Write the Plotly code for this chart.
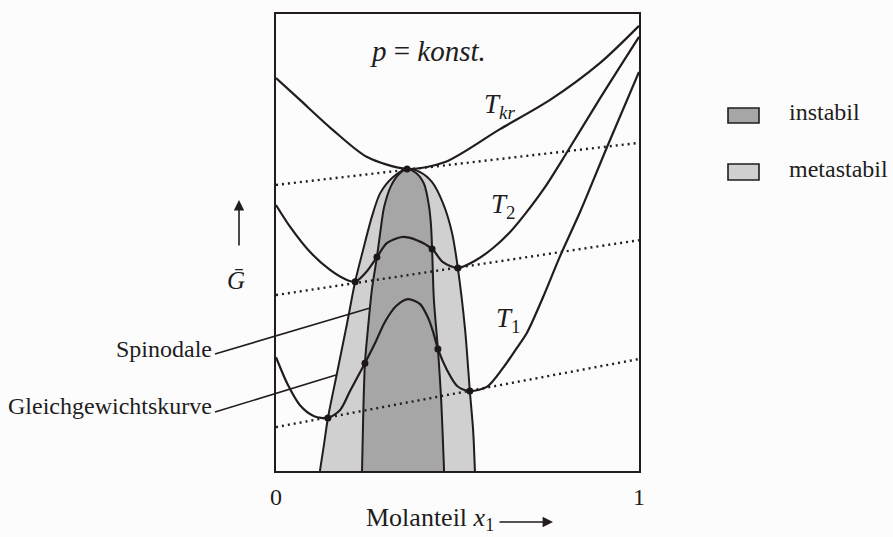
import plotly.graph_objects as go

# Molar Gibbs energy G(x1) at constant pressure for three temperatures
tkr_x = [0.000, 0.066, 0.157, 0.251, 0.361, 0.466, 0.617, 0.755, 0.893, 1.000]
tkr_g = [86.0, 81.2, 74.6, 68.7, 66.1, 67.6, 74.8, 81.2, 89.3, 97.4]

t2_x = [0.000, 0.039, 0.094, 0.149, 0.190, 0.218, 0.248, 0.278, 0.306, 0.347, 0.388,
        0.430, 0.460, 0.501, 0.548, 0.598, 0.645, 0.686, 0.741, 0.802, 0.893, 1.000]
t2_g = [58.2, 53.4, 47.9, 44.0, 42.0, 41.4, 43.5, 46.8, 49.9, 51.2, 50.5,
        48.6, 45.7, 44.4, 46.0, 48.8, 52.3, 56.2, 62.1, 69.8, 81.6, 95.0]

t1_x = [0.000, 0.033, 0.066, 0.105, 0.143, 0.176, 0.204, 0.245, 0.273, 0.300, 0.331, 0.364,
        0.397, 0.419, 0.433, 0.446, 0.471, 0.499, 0.534, 0.581, 0.625, 0.658, 0.691, 0.735,
        0.782, 0.840, 0.912, 1.000]
t1_g = [24.9, 18.8, 14.4, 12.0, 11.6, 13.3, 17.5, 23.6, 28.0, 32.6, 36.1, 37.6,
        36.5, 33.5, 30.4, 26.7, 22.1, 18.6, 17.5, 18.4, 22.5, 26.3, 30.2, 37.9,
        46.9, 57.1, 70.9, 87.3]

# Common tangents (double tangents) for each temperature
tangent_x = [0.0, 1.0]
tkr_tangent = [62.6, 71.8]
t2_tangent = [38.5, 50.5]
t1_tangent = [9.6, 24.5]

# Equilibrium curve (binodal) and spinodal, closed from bottom-left over the critical point
binodal_x = [0.121, 0.132, 0.143, 0.168, 0.196, 0.218, 0.240, 0.264, 0.287, 0.322, 0.361,
             0.397, 0.430, 0.460, 0.485, 0.501, 0.521, 0.534, 0.543, 0.548]
binodal_g = [0.0, 5.7, 11.6, 21.4, 32.4, 41.4, 48.4, 55.6, 60.8, 64.3, 66.1,
             65.4, 63.2, 58.6, 52.1, 44.4, 30.9, 17.5, 9.0, 0.0]

spinodal_x = [0.237, 0.240, 0.245, 0.253, 0.264, 0.278, 0.287, 0.298, 0.317, 0.339, 0.361,
              0.386, 0.408, 0.421, 0.427, 0.430, 0.435, 0.446, 0.455, 0.463]
spinodal_g = [0.0, 11.2, 23.6, 30.9, 39.6, 46.8, 52.1, 57.8, 62.4, 65.0, 66.1,
              65.2, 62.8, 58.2, 53.8, 48.6, 37.4, 26.7, 15.5, 0.0]

# Marked points: critical point, binodal and spinodal points on T2 and T1
point_x = [0.361, 0.218, 0.278, 0.430, 0.501, 0.143, 0.245, 0.446, 0.534]
point_g = [66.1, 41.4, 46.8, 48.6, 44.4, 11.6, 23.6, 26.7, 17.5]

x_ticks = [0, 1]
x_tick_text = ["0", "1"]

INK = "#221c1c"
SERIF = "Liberation Serif, Times New Roman, serif"
META = "#d0d0d0"
INST = "#a6a6a6"

fig = go.Figure()

fig.add_trace(go.Scatter(x=binodal_x, y=binodal_g, mode="lines", fill="toself",
                         fillcolor=META, line=dict(color=INK, width=2, shape="spline", smoothing=0.8),
                         hoverinfo="skip", showlegend=False))
fig.add_trace(go.Scatter(x=spinodal_x, y=spinodal_g, mode="lines", fill="toself",
                         fillcolor=INST, line=dict(color=INK, width=2, shape="spline", smoothing=0.8),
                         hoverinfo="skip", showlegend=False))

for tg in (tkr_tangent, t2_tangent, t1_tangent):
    fig.add_trace(go.Scatter(x=tangent_x, y=tg, mode="lines",
                             line=dict(color=INK, width=2.4, dash="2px,4px"),
                             hoverinfo="skip", showlegend=False))

for cx, cg in ((tkr_x, tkr_g), (t2_x, t2_g), (t1_x, t1_g)):
    fig.add_trace(go.Scatter(x=cx, y=cg, mode="lines",
                             line=dict(color=INK, width=2.2, shape="spline", smoothing=0.8),
                             hoverinfo="skip", showlegend=False))

fig.add_trace(go.Scatter(x=point_x, y=point_g, mode="markers",
                         marker=dict(color="#1c1717", size=7),
                         hoverinfo="skip", showlegend=False, cliponaxis=False))

W, H = 893, 537
L, R, T, B = 276, 639, 14, 471


def px(v):
    return (v - L) / (R - L)


def py(v):
    return (B - v) / (B - T)


shapes = [
    # leader lines
    dict(type="line", xref="paper", yref="paper", x0=px(215), y0=py(354), x1=px(370), y1=py(308),
         line=dict(color=INK, width=1.6)),
    dict(type="line", xref="paper", yref="paper", x0=px(215), y0=py(412), x1=px(336), y1=py(375),
         line=dict(color=INK, width=1.6)),
    # legend swatches
    dict(type="rect", xref="paper", yref="paper", x0=px(728), x1=px(759), y0=py(123), y1=py(108),
         fillcolor=INST, line=dict(color=INK, width=1.6)),
    dict(type="rect", xref="paper", yref="paper", x0=px(728), x1=px(759), y0=py(180), y1=py(164),
         fillcolor=META, line=dict(color=INK, width=1.6)),
]

ann = []


def label(text, x, y, size=24, xanchor="center"):
    ann.append(dict(text=text, xref="paper", yref="paper", x=px(x), y=py(y), showarrow=False,
                    xanchor=xanchor, yanchor="middle", font=dict(family=SERIF, size=size, color=INK)))


label("<i>p</i> = <i>konst.</i>", 428, 51, size=29)
label("<i>T</i><sub><i>kr</i></sub>", 482, 106, size=27, xanchor="left")
label("<i>T</i><sub>2</sub>", 489, 206, size=27, xanchor="left")
label("<i>T</i><sub>1</sub>", 494, 320, size=27, xanchor="left")
label("instabil", 787, 112, size=24, xanchor="left")
label("metastabil", 787, 169, size=24, xanchor="left")
label("Spinodale", 214, 349, size=24, xanchor="right")
label("Gleichgewichtskurve", 214, 406, size=24, xanchor="right")
label("<i>Ḡ</i>", 236, 280, size=25)
label("Molanteil <i>x</i><sub>1</sub>", 364, 519, size=26, xanchor="left")

# axis arrows
ann.append(dict(text="", xref="paper", yref="paper", x=px(553), y=py(522), ax=-55, ay=0,
                showarrow=True, arrowhead=2, arrowsize=1.3, arrowwidth=1.6, arrowcolor=INK))
ann.append(dict(text="", xref="paper", yref="paper", x=px(239), y=py(200), ax=0, ay=47,
                showarrow=True, arrowhead=2, arrowsize=1.3, arrowwidth=1.6, arrowcolor=INK))

fig.update_layout(
    width=W, height=H,
    margin=dict(l=L, r=W - R, t=T, b=H - B, autoexpand=False),
    paper_bgcolor="#fcfcfc", plot_bgcolor="#fcfcfc",
    shapes=shapes, annotations=ann,
    xaxis=dict(range=[0, 1], tickvals=x_ticks, ticktext=x_tick_text, showgrid=False, zeroline=False,
               showline=True, mirror=True, linecolor=INK, linewidth=1.6, ticks="",
               ticklabelstandoff=3, tickfont=dict(family=SERIF, size=24, color=INK), automargin=False),
    yaxis=dict(range=[0, 100], showticklabels=False, showgrid=False, zeroline=False,
               showline=True, mirror=True, linecolor=INK, linewidth=1.6, ticks="", automargin=False),
)

fig.write_html("out.html")
